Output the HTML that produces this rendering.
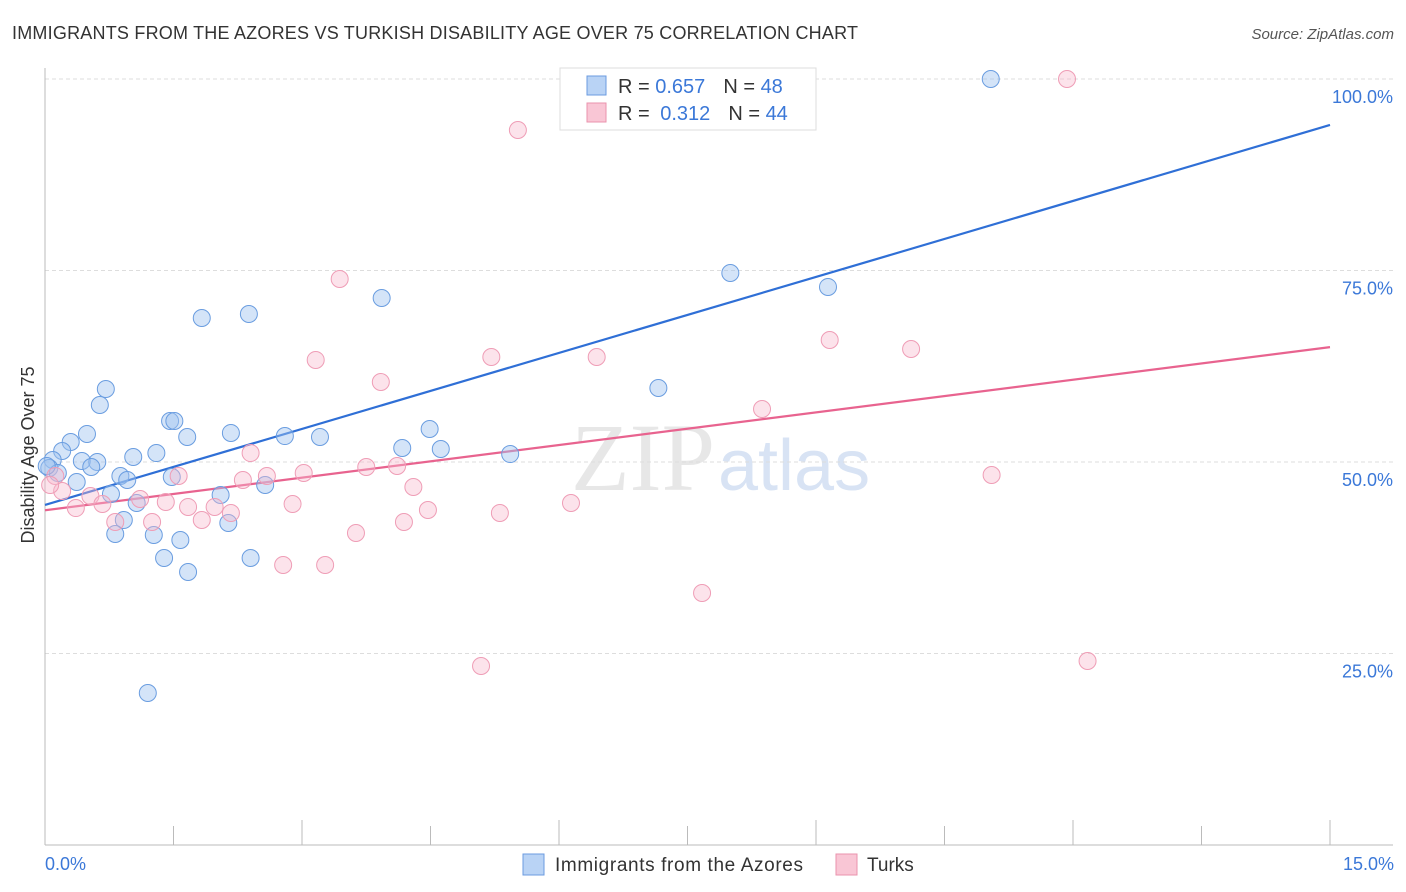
<!DOCTYPE html>
<html><head><meta charset="utf-8"><style>
body{margin:0;background:#fff;font-family:"Liberation Sans",sans-serif;}
svg{display:block}
</style></head><body>
<svg id="chart" width="1406" height="892">
<text x="12" y="39" font-size="18" fill="#333" textLength="846">IMMIGRANTS FROM THE AZORES VS TURKISH DISABILITY AGE OVER 75 CORRELATION CHART</text>
<text x="1394" y="39" font-size="15" fill="#555" font-style="italic" text-anchor="end">Source: ZipAtlas.com</text>
<text x="715" y="490" font-size="96" fill="#ddd" text-anchor="end" font-family="Liberation Serif,serif" opacity="0.7">ZIP</text>
<text x="718" y="490" font-size="72" fill="#c8d8f0" opacity="0.7">atlas</text>
<g id="grid"></g>
<g id="axes"></g>
<g id="trend"></g>
<g id="pts"></g>
<text transform="translate(34,455) rotate(-90)" font-size="18" fill="#333" text-anchor="middle">Disability Age Over 75</text>
<text x="45" y="870" font-size="18" fill="#3b78d8">0.0%</text>
<text x="1394" y="870" font-size="18" fill="#3b78d8" text-anchor="end">15.0%</text>
<g>
<rect x="560" y="68" width="256" height="62" fill="#fff" stroke="#ddd"/>
<rect x="587" y="76" width="19" height="19" fill="#b9d3f5" stroke="#6b9be0"/>
<rect x="587" y="103" width="19" height="19" fill="#f9c6d5" stroke="#ea93ad"/>
<text x="618" y="93" font-size="20" fill="#333">R = <tspan fill="#3b78d8">0.657</tspan><tspan dx="18">N = </tspan><tspan fill="#3b78d8">48</tspan></text>
<text x="618" y="120" font-size="20" fill="#333">R = <tspan fill="#3b78d8" dx="5">0.312</tspan><tspan dx="18">N = </tspan><tspan fill="#3b78d8">44</tspan></text>
</g>
<g>
<rect x="523" y="854" width="21" height="21" fill="#b9d3f5" stroke="#6b9be0"/>
<text x="555" y="871" font-size="19" fill="#333" textLength="248">Immigrants from the Azores</text>
<rect x="836" y="854" width="21" height="21" fill="#f9c6d5" stroke="#ea93ad"/>
<text x="867" y="871" font-size="19" fill="#333">Turks</text>
</g>
</svg>
<script>
const yTicks=[25,50,75,100];
const yTickLabels=["25.0%","50.0%","75.0%","100.0%"];
const xTicks=[0,1.5,3,4.5,6,7.5,9,10.5,12,13.5,15];
const blueX=[11.04,8.00,9.14,3.93,1.83,2.38,7.16,0.71,0.64,1.46,1.51,0.49,1.66,2.17,2.80,3.21,0.30,0.20,1.30,1.03,0.09,0.43,0.61,0.54,0.05,0.15,0.88,0.96,1.48,0.37,4.17,4.49,4.62,5.43,2.57,0.77,2.05,1.07,0.92,0.82,1.27,1.58,2.14,1.39,2.40,1.67,1.20,0.02];
const blueY=[100,74.67,72.85,71.41,68.80,69.32,59.66,59.53,57.44,55.35,55.35,53.66,53.26,53.79,53.39,53.26,52.61,51.44,51.17,50.65,50.26,50.13,50.00,49.35,49.22,48.56,48.17,47.65,48.04,47.39,51.83,54.31,51.70,51.04,47.00,45.82,45.69,44.65,42.43,40.60,40.47,39.82,42.04,37.47,37.47,35.64,19.84,49.48];
const pinkX=[11.93,5.52,3.44,9.16,10.11,3.16,5.21,6.44,3.92,8.37,2.40,1.56,2.31,2.59,3.02,3.75,4.11,4.30,11.05,0.12,0.20,0.53,1.11,1.41,0.67,0.36,1.67,1.98,2.89,4.47,5.31,6.14,2.17,1.25,0.82,1.83,3.63,4.19,2.78,3.27,7.67,5.09,12.17,0.06];
const pinkY=[100,93.34,73.89,65.93,64.75,63.32,63.71,63.71,60.44,56.92,51.17,48.17,47.65,48.17,48.56,49.35,49.48,46.74,48.30,48.17,46.21,45.56,45.17,44.78,44.52,43.99,44.13,44.13,44.52,43.73,43.34,44.65,43.34,42.17,42.17,42.43,40.73,42.17,36.55,36.55,32.90,23.37,24.02,47.00];
const blueTrend=[44.4,94.0];
const pinkTrend=[43.7,65.0];
const NS="http://www.w3.org/2000/svg";
const X=v=>45+v/15*1285, Y=v=>845-v/100*766;
function mk(t,a,p){const e=document.createElementNS(NS,t);for(const k in a)e.setAttribute(k,a[k]);p.appendChild(e);return e;}
const grid=document.getElementById('grid'),axes=document.getElementById('axes');
yTicks.forEach((t,i)=>{
 const l=mk('line',{x1:45,x2:1393,y1:Y(t),y2:Y(t),stroke:'#ddd','stroke-dasharray':'4,3'},grid);
 
 
 const tx=mk('text',{x:1393,y:Y(t)+24,'font-size':18,fill:'#3b78d8','text-anchor':'end'},grid);
 tx.textContent=yTickLabels[i];
 
 
});
const ya=mk('line',{x1:45,x2:45,y1:68,y2:845,stroke:'#bbb'},axes);


const xa=mk('line',{x1:45,x2:1393,y1:845,y2:845,stroke:'#bbb'},axes);


xTicks.forEach((t,i)=>{
 if(i===0)return;
 const tk=mk('line',{x1:X(t),x2:X(t),y1:(i%2===0?820:826),y2:845,stroke:'#bbb'},axes);
 
 
});
const tr=document.getElementById('trend');
const bl=mk('line',{x1:X(0),y1:Y(blueTrend[0]),x2:X(15),y2:Y(blueTrend[1]),stroke:'#2f6fd6','stroke-width':2.2},tr);


const pl=mk('line',{x1:X(0),y1:Y(pinkTrend[0]),x2:X(15),y2:Y(pinkTrend[1]),stroke:'#e8638f','stroke-width':2.2},tr);


const pts=document.getElementById('pts');
blueX.forEach((x,i)=>{
 const c=mk('circle',{cx:X(x),cy:Y(blueY[i]),r:8.5,fill:'rgba(160,196,240,0.45)',stroke:'#6a9de0','stroke-width':1},pts);
 
 
});
pinkX.forEach((x,i)=>{
 const c=mk('circle',{cx:X(x),cy:Y(pinkY[i]),r:8.5,fill:'rgba(248,185,205,0.4)',stroke:'#ef9db6','stroke-width':1},pts);
 
 
});
</script>
</body></html>
